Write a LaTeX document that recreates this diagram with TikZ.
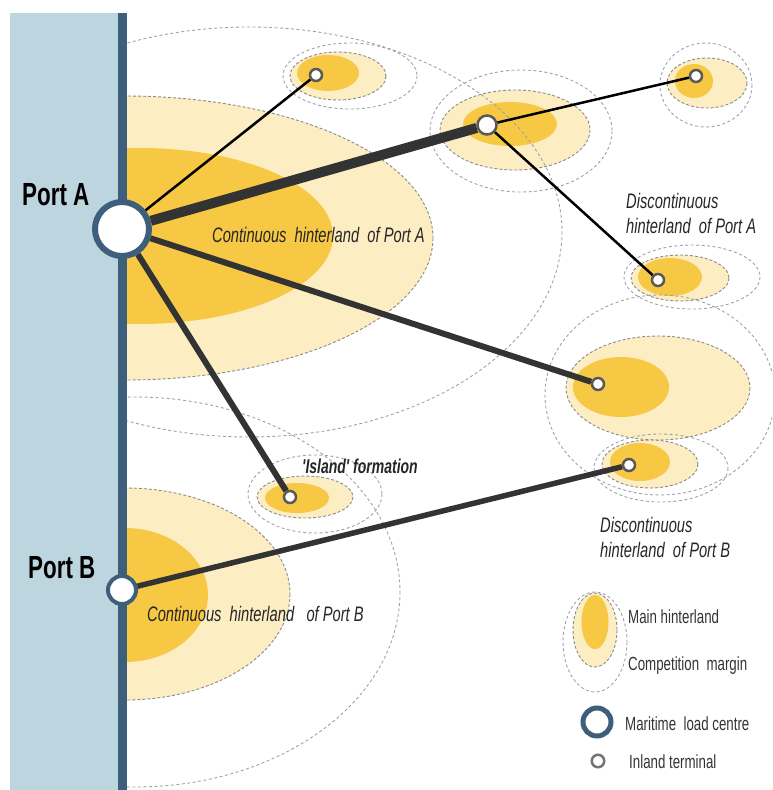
\documentclass[tikz,border=0pt]{standalone}
\usepackage{fontspec}
\newfontfamily\agency[FakeStretch=0.7]{Liberation Sans}
\usetikzlibrary{positioning}
\definecolor{sea}{HTML}{BDD5DF}
\definecolor{coast}{HTML}{3E5F7B}
\definecolor{marginyel}{HTML}{FDEDC3}
\definecolor{mainyel}{HTML}{F7C844}
\definecolor{zonegray}{HTML}{8A8A8A}
\definecolor{reachgray}{HTML}{9CA2AB}
\definecolor{linkgray}{HTML}{333333}
\tikzset{
  margin/.style={fill=marginyel, draw=zonegray, dash pattern=on 3pt off 2pt, line width=0.9pt},
  main/.style={fill=mainyel},
  reach/.style={draw=reachgray, dash pattern=on 3pt off 2.5pt, line width=0.9pt},
  port/.style={circle, draw=coast, fill=white, inner sep=0pt},
  terminal/.style={circle, draw=black!65, fill=white, line width=2.5pt, inner sep=0pt, minimum size=12pt},
  trunk/.style={draw=linkgray, line width=10pt},
  feeder/.style={draw=linkgray, line width=6pt},
  spur/.style={draw=black, line width=2.5pt},
  maplabel/.style={font=\agency\itshape\fontsize{21}{25}\selectfont, text=black!85, anchor=base west, inner sep=0pt, align=left},
  portlabel/.style={font=\agency\bfseries\fontsize{32}{36}\selectfont, anchor=base west, inner sep=0pt},
  keylabel/.style={font=\agency\fontsize{19}{22}\selectfont, text=black!80, anchor=base west, inner sep=0pt},
}

\begin{document}
\begin{tikzpicture}[x=1pt,y=-1pt]
  \useasboundingbox (0,0) rectangle (772,790);

  % hinterlands
  \begin{scope}
    \clip (127,0) rectangle (772,790);
    \path[margin] (125,238) ellipse [x radius=308, y radius=142];
    \fill[main] (140,236) ellipse [x radius=193, y radius=88];
    \path[margin] (125,594) ellipse [x radius=165, y radius=106];
    \fill[main] (125,595) ellipse [x radius=83, y radius=67];

    \path[margin] (338,76) ellipse [x radius=48, y radius=24];
    \fill[main] (328,73) ellipse [x radius=31, y radius=18];
    \path[margin] (515,130) ellipse [x radius=75, y radius=40];
    \fill[main] (510,124) ellipse [x radius=47, y radius=22];
    \path[margin] (707,83) ellipse [x radius=40, y radius=25];
    \fill[main] (694,81) ellipse [x radius=19, y radius=17];
    \path[margin] (680,278) ellipse [x radius=49, y radius=23];
    \fill[main] (670,277) ellipse [x radius=32, y radius=19];
    \path[margin] (658,388) ellipse [x radius=92, y radius=52];
    \fill[main] (621,387) ellipse [x radius=48, y radius=30];
    \path[margin] (305,497) ellipse [x radius=48, y radius=21];
    \fill[main] (297,498) ellipse [x radius=32, y radius=15];
    \path[margin] (650,464) ellipse [x radius=48, y radius=24];
    \fill[main] (640,462) ellipse [x radius=30, y radius=19];

    \draw[reach] (249,232) ellipse [x radius=313, y radius=205];
    \draw[reach] (135,592) ellipse [x radius=265, y radius=195];
    \draw[reach] (350,76) ellipse [x radius=67, y radius=33];
    \draw[reach] (521,131) ellipse [x radius=91, y radius=61];
    \draw[reach] (706,85) ellipse [x radius=46, y radius=42];
    \draw[reach] (692,277) ellipse [x radius=68, y radius=32];
    \draw[reach] (660,395) ellipse [x radius=115, y radius=100];
    \draw[reach] (315,494) ellipse [x radius=67, y radius=39];
    \draw[reach] (661,468) ellipse [x radius=67, y radius=34];
  \end{scope}

  % sea and coast
  \fill[sea] (10,13) rectangle (118,790);
  \draw[coast, line width=9pt] (122,13) -- (122,790);

  % ports and terminals
  \node[port, line width=6pt, minimum size=54pt] (portA) at (122,229) {};
  \node[port, line width=4pt, minimum size=28pt] (portB) at (122,590) {};
  \node[terminal, minimum size=19pt] (hub) at (487,125) {};
  \node[terminal] (tnw) at (316,75) {};
  \node[terminal] (tne) at (696,76) {};
  \node[terminal] (teast) at (658,280) {};
  \node[terminal] (tmid) at (598,384) {};
  \node[terminal] (island) at (290,497) {};
  \node[terminal] (tportB) at (629,465) {};

  % links
  \draw[trunk] (portA) -- (hub);
  \draw[spur] (portA) -- (tnw);
  \draw[feeder] (portA) -- (tmid);
  \draw[feeder] (portA) -- (island);
  \draw[spur] (hub) -- (tne);
  \draw[spur] (hub) -- (teast);
  \draw[feeder, line width=5.5pt] (portB) -- (tportB);

  % labels
  \node[portlabel] (lblA) at (22,205) {Port A};
  \node[portlabel] (lblB) at (28,578) {Port B};
  \node[maplabel] (contA) at (212,242) {Continuous\ \ hinterland\ \ of Port A};
  \node[maplabel] (discA) at (626,233) {Discontinuous\\hinterland\ \ of Port A};
  \node[maplabel, font=\agency\itshape\bfseries\fontsize{20}{24}\selectfont] (islandlbl) at (302,473) {'Island' formation};
  \node[maplabel] (discB) at (600,557) {Discontinuous\\hinterland\ \ of Port B};
  \node[maplabel] (contB) at (147,621) {Continuous\ \ hinterland\ \ \ of Port B};

  % legend
  \draw[reach] (595,642) ellipse [x radius=32, y radius=50];
  \path[margin] (595,630) ellipse [x radius=22, y radius=37];
  \fill[main] (595,622) ellipse [x radius=13.5, y radius=27];
  \node[keylabel] (keymain) at (628,623) {Main hinterland};
  \node[keylabel] (keymargin) at (628,670) {Competition\ \ margin};
  \node[port, line width=5pt, minimum size=28pt] (keyport) at (597,722) {};
  \node[keylabel] (keyportlbl) at (625,730) {Maritime\ \ load centre};
  \node[terminal, draw=black!55, minimum size=12.5pt] (keyterm) at (598,761) {};
  \node[keylabel] (keytermlbl) at (629,768) {Inland terminal};
\end{tikzpicture}
\end{document}
